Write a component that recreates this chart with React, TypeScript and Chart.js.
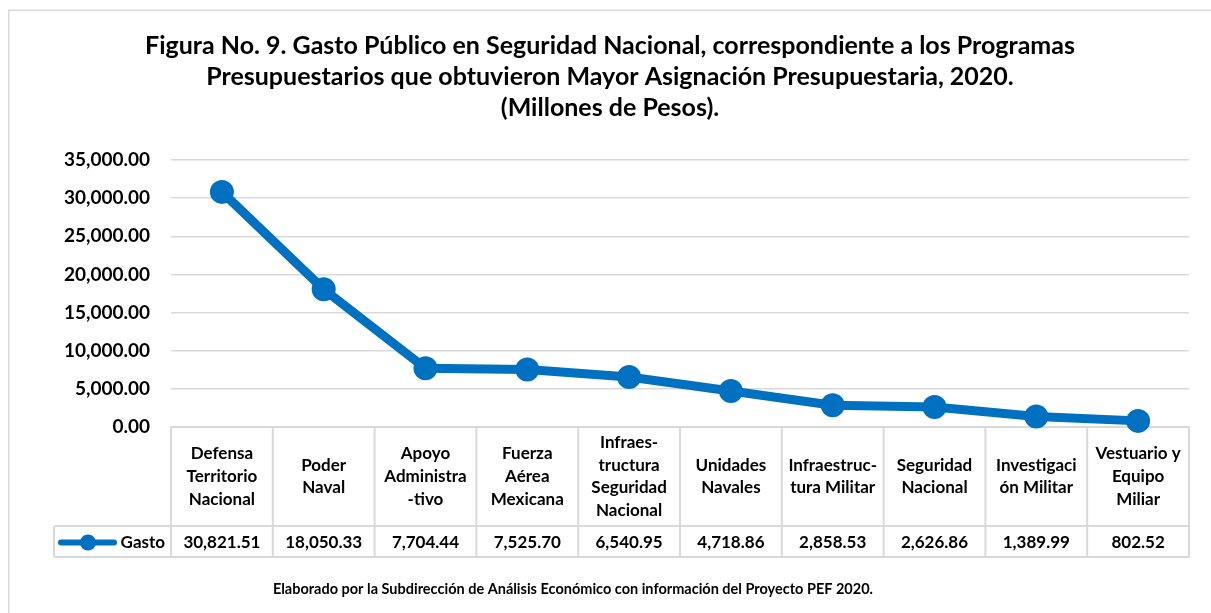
import React, { useEffect, useRef } from "react";
import { Chart, registerables } from "chart.js";

Chart.register(...registerables);

const titleLines = [
  "Figura No. 9. Gasto Público en Seguridad Nacional, correspondiente a los Programas",
  "Presupuestarios que obtuvieron Mayor Asignación Presupuestaria, 2020.",
  "(Millones de Pesos).",
];

const categories: string[][] = [
  ["Defensa", "Territorio", "Nacional"],
  ["Poder", "Naval"],
  ["Apoyo", "Administra", "-tivo"],
  ["Fuerza", "Aérea", "Mexicana"],
  ["Infraes-", "tructura", "Seguridad", "Nacional"],
  ["Unidades", "Navales"],
  ["Infraestruc-", "tura Militar"],
  ["Seguridad", "Nacional"],
  ["Investigaci", "ón Militar"],
  ["Vestuario y", "Equipo", "Miliar"],
];

const seriesName = "Gasto";
const gasto = [30821.51, 18050.33, 7704.44, 7525.7, 6540.95, 4718.86, 2858.53, 2626.86, 1389.99, 802.52];

const yMax = 35000;
const yStep = 5000;

const footerText =
  "Elaborado por la Subdirección de Análisis Económico con información del Proyecto PEF 2020.";

const FONT = "Lato, 'Open Sans', sans-serif";
const BLUE = "#0070C0";
const GRID = "#d9d9d9";

const fmt = (v: number) =>
  v.toLocaleString("en-US", { minimumFractionDigits: 2, maximumFractionDigits: 2 });

const decorPlugin = {
  id: "decor",
  beforeDraw(chart: any) {
    const ctx = chart.ctx;
    ctx.save();
    ctx.fillStyle = "#ffffff";
    ctx.fillRect(0, 0, chart.width, chart.height);
    ctx.strokeStyle = GRID;
    ctx.lineWidth = 1.5;
    ctx.strokeRect(8.75, 10.25, chart.width + 50, chart.height + 50);
    // title
    ctx.fillStyle = "#000";
    ctx.font = `bold 25px ${FONT}`;
    ctx.textAlign = "center";
    ctx.textBaseline = "middle";
    const ys = [46, 77, 108];
    titleLines.forEach((t, i) => ctx.fillText(t, 610, ys[i]));
    // footer
    ctx.font = `bold 14.5px ${FONT}`;
    ctx.fillText(footerText, 573, 589);
    ctx.restore();
  },
  beforeDatasetsDraw(chart: any) {
    const ctx = chart.ctx;
    const x = chart.scales.x;
    const area = chart.chartArea;
    const n = chart.data.labels.length;
    const half = (x.getPixelForValue(1) - x.getPixelForValue(0)) / 2;
    const top = area.bottom;
    const mid = 526;
    const bottom = 557;
    const legendLeft = 54;
    ctx.save();
    ctx.strokeStyle = GRID;
    ctx.lineWidth = 2;
    const left = x.getPixelForValue(0) - half;
    const right = x.getPixelForValue(n - 1) + half;
    ctx.beginPath();
    ctx.moveTo(left, top);
    ctx.lineTo(right, top);
    ctx.moveTo(legendLeft, mid);
    ctx.lineTo(right, mid);
    ctx.moveTo(legendLeft, bottom);
    ctx.lineTo(right, bottom);
    ctx.moveTo(legendLeft, mid);
    ctx.lineTo(legendLeft, bottom);
    for (let i = 0; i <= n; i++) {
      const px = i < n ? x.getPixelForValue(i) - half : right;
      ctx.moveTo(px, top);
      ctx.lineTo(px, bottom);
    }
    ctx.stroke();

    ctx.fillStyle = "#000";
    ctx.textAlign = "center";
    ctx.textBaseline = "middle";
    const lh = 22.7;
    ctx.font = `bold 17px ${FONT}`;
    chart.data.labels.forEach((lab: string[], i: number) => {
      const cx = x.getPixelForValue(i);
      const cy = (top + mid) / 2;
      const start = cy - ((lab.length - 1) * lh) / 2;
      lab.forEach((ln, j) => ctx.fillText(ln, cx, start + j * lh));
    });
    ctx.font = `bold 17px ${FONT}`;
    const vy = (mid + bottom) / 2 + 1;
    chart.data.datasets[0].data.forEach((v: number, i: number) => {
      ctx.fillText(fmt(v), x.getPixelForValue(i), vy);
    });
    // legend key
    ctx.strokeStyle = BLUE;
    ctx.lineWidth = 6;
    ctx.lineCap = "round";
    ctx.beginPath();
    ctx.moveTo(61, vy);
    ctx.lineTo(114, vy);
    ctx.stroke();
    ctx.fillStyle = BLUE;
    ctx.beginPath();
    ctx.arc(88, vy, 8, 0, Math.PI * 2);
    ctx.fill();
    ctx.fillStyle = "#000";
    ctx.textAlign = "right";
    ctx.fillText(chart.data.datasets[0].label, 165, vy);
    ctx.restore();
  },
};

export default function App() {
  const ref = useRef<HTMLCanvasElement>(null);
  useEffect(() => {
    if (!ref.current) return;
    const chart = new Chart(ref.current, {
      type: "line",
      data: {
        labels: categories,
        datasets: [
          {
            label: seriesName,
            data: gasto,
            borderColor: BLUE,
            backgroundColor: BLUE,
            borderWidth: 9,
            pointRadius: 12,
            pointHoverRadius: 12,
            pointBackgroundColor: BLUE,
            pointBorderWidth: 0,
            tension: 0,
            clip: false as any,
          },
        ],
      },
      options: {
        responsive: false,
        animation: false,
        layout: { padding: { left: 0, right: 22, top: 160, bottom: 186 } },
        plugins: {
          legend: { display: false },
          title: { display: false },
          tooltip: { enabled: false },
        },
        scales: {
          x: {
            display: false,
            offset: true,
          },
          y: {
            min: 0,
            max: yMax,
            afterFit: (s: any) => {
              s.width = 171;
            },
            ticks: {
              stepSize: yStep,
              padding: 21,
              color: "#000",
              font: { family: FONT, size: 19, weight: "bold" },
              callback: (v: any) => fmt(Number(v)),
            },
            grid: { color: GRID, lineWidth: 1.5, drawTicks: false },
            border: { display: false },
          },
        },
      },
      plugins: [decorPlugin],
    });
    return () => chart.destroy();
  }, []);
  return (
    <div style={{ position: "fixed", left: 0, top: 0, width: 1211, height: 613 }}>
      <canvas ref={ref} width={1211} height={613} />
    </div>
  );
}
